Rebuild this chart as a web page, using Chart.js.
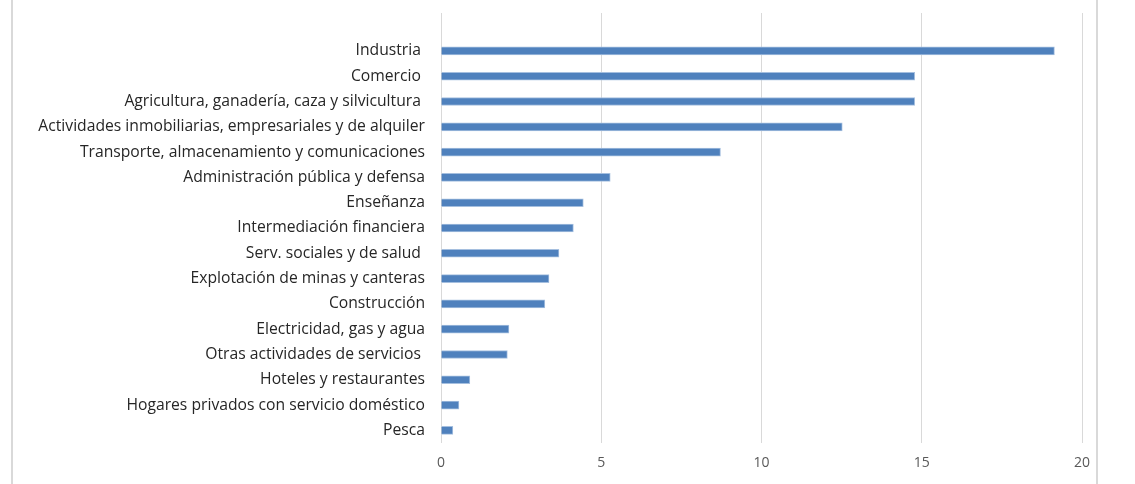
<!DOCTYPE html>
<html>
<head>
<meta charset="utf-8">
<script src="https://cdn.jsdelivr.net/npm/chart.js@4"></script>
<style>
    html, body { margin: 0; padding: 0; background: #ffffff; }
    #wrap { position: relative; width: 1135px; height: 484px; }
    #frame { position: absolute; left: 11px; top: 0; width: 1087px; height: 484px;
             border-left: 2px solid #d9d9d9; border-right: 2px solid #d9d9d9; box-sizing: border-box; pointer-events: none; }
</style>
</head>
<body>
<div id="wrap">
    <canvas id="chart" width="1135" height="484"></canvas>
    <div id="frame"></div>
</div>
<script>
// categories top to bottom (first one is an empty row, as in the original sheet)
const sectors = [
    "",
    "Industria ",
    "Comercio ",
    "Agricultura, ganadería, caza y silvicultura ",
    "Actividades inmobiliarias, empresariales y de alquiler",
    "Transporte, almacenamiento y comunicaciones",
    "Administración pública y defensa",
    "Enseñanza",
    "Intermediación financiera",
    "Serv. sociales y de salud ",
    "Explotación de minas y canteras",
    "Construcción",
    "Electricidad, gas y agua",
    "Otras actividades de servicios ",
    "Hoteles y restaurantes",
    "Hogares privados con servicio doméstico",
    "Pesca"
];

// share per sector
const shares = [
    null, 19.14, 14.78, 14.78, 12.52, 8.72, 5.28, 4.44, 4.13, 3.68, 3.37, 3.24, 2.12, 2.07, 0.90, 0.56, 0.37
];

const xTicks = [0, 5, 10, 15, 20];

const ctx = document.getElementById('chart').getContext('2d');
new Chart(ctx, {
    type: 'bar',
    data: {
        labels: sectors,
        datasets: [{
            data: shares,
            backgroundColor: '#4f81bd',
            borderColor: '#a5bfdf',
            borderWidth: 1,
            barThickness: 8
        }]
    },
    options: {
        indexAxis: 'y',
        responsive: false,
        animation: false,
        layout: { padding: { top: 13, right: 53, bottom: 0, left: 0 } },
        plugins: {
            legend: { display: false },
            tooltip: { enabled: false }
        },
        scales: {
            x: {
                min: xTicks[0],
                max: xTicks[xTicks.length - 1],
                afterBuildTicks: scale => { scale.ticks = xTicks.map(v => ({ value: v })); },
                grid: { color: '#d9d9d9', lineWidth: 1, drawTicks: false },
                border: { display: false },
                ticks: {
                    padding: 12,
                    color: '#595959',
                    font: { family: 'Open Sans', size: 14 }
                },
                afterFit: scale => { scale.height = 41; }
            },
            y: {
                grid: { display: false, drawTicks: false },
                border: { display: false },
                ticks: {
                    padding: 16,
                    autoSkip: false,
                    color: '#262626',
                    font: { family: 'Open Sans', size: 15.7 }
                },
                afterFit: scale => {
                    scale.width = 441;
                    scale.paddingTop = 0;
                    scale.paddingBottom = 0;
                }
            }
        }
    }
});
</script>
</body>
</html>
